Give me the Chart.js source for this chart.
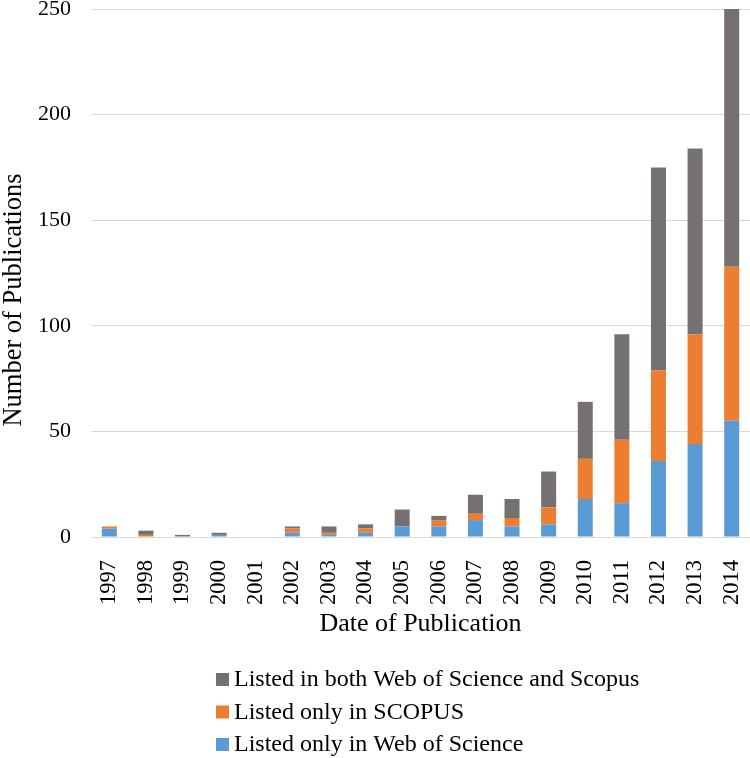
<!DOCTYPE html>
<html>
<head>
<meta charset="utf-8">
<script src="https://cdn.jsdelivr.net/npm/chart.js@4/dist/chart.umd.min.js"></script>
<style>
    html, body { margin: 0; padding: 0; background: #fff; }
    #wrap { width: 750px; height: 758px; }
</style>
</head>
<body>
<div id="wrap"><canvas id="chart" width="750" height="758"></canvas></div>
<script>
const years = ['1997', '1998', '1999', '2000', '2001', '2002', '2003', '2004', '2005',
    '2006', '2007', '2008', '2009', '2010', '2011', '2012', '2013', '2014'];
const webOfScienceOnly = [4, 0, 0, 1, 0, 2, 1, 2, 5, 5, 8, 5, 6, 18, 16, 36, 44, 55];
const scopusOnly = [1, 1, 0, 0, 0, 2, 1, 2, 0, 3, 3, 4, 8, 19, 30, 43, 52, 73];
const bothIndexes = [0, 2, 1, 1, 0, 1, 3, 2, 8, 2, 9, 9, 17, 27, 50, 96, 88, 122];
const yTicks = [0, 50, 100, 150, 200, 250];

const serif = "'Liberation Serif', 'Times New Roman', serif";
const yTitle = 'Number of Publications';

// y title sits a bit below the middle of the axis in the original, so draw it by hand
// legend is a vertical list under the axis title, top entry = top of stack
const extraText = {
    id: 'extraText',
    afterDraw(chart) {
        const ctx = chart.ctx;
        ctx.save();
        ctx.fillStyle = '#000';
        ctx.font = '26.5px ' + serif;
        ctx.textAlign = 'center';
        ctx.textBaseline = 'middle';
        ctx.translate(14, 300);
        ctx.rotate(-Math.PI / 2);
        ctx.fillText(yTitle, 0, 0);
        ctx.restore();

        const items = chart.data.datasets.slice().reverse();
        ctx.save();
        ctx.font = '24px ' + serif;
        ctx.textBaseline = 'middle';
        ctx.textAlign = 'left';
        items.forEach((ds, i) => {
            const y = 680 + i * 32.5;
            ctx.fillStyle = ds.backgroundColor;
            ctx.fillRect(216, y - 7, 13, 13);
            ctx.fillStyle = '#000';
            ctx.fillText(ds.label, 234, y);
        });
        ctx.restore();
    }
};

const ctx = document.getElementById('chart').getContext('2d');
new Chart(ctx, {
    type: 'bar',
    data: {
        labels: years,
        datasets: [{
            label: 'Listed only in Web of Science',
            data: webOfScienceOnly,
            backgroundColor: '#5B9BD5'
        }, {
            label: 'Listed only in SCOPUS',
            data: scopusOnly,
            backgroundColor: '#ED7D31'
        }, {
            label: 'Listed in both Web of Science and Scopus',
            data: bothIndexes,
            backgroundColor: '#767171'
        }]
    },
    plugins: [extraText],
    options: {
        responsive: false,
        animation: false,
        layout: {
            padding: { top: 9, bottom: 118, left: 0, right: 0 }
        },
        datasets: {
            bar: { categoryPercentage: 1, barPercentage: 0.41 }
        },
        plugins: {
            legend: { display: false },
            tooltip: { enabled: false }
        },
        scales: {
            x: {
                stacked: true,
                grid: { display: false },
                border: { display: false },
                ticks: {
                    color: '#000',
                    font: { family: serif, size: 22.5 },
                    minRotation: 90,
                    maxRotation: 90,
                    padding: 15,
                    autoSkip: false
                },
                title: {
                    display: true,
                    text: 'Date of Publication',
                    color: '#000',
                    font: { family: serif, size: 26 },
                    padding: { top: 12, bottom: 0 }
                },
                afterFit(scale) {
                    scale.height = 103;
                    scale.paddingLeft = 0;
                    scale.paddingRight = 0;
                }
            },
            y: {
                stacked: true,
                min: 0,
                max: 250,
                afterBuildTicks(scale) {
                    scale.ticks = yTicks.map(v => ({ value: v }));
                },
                grid: { color: '#d9d9d9', lineWidth: 1, drawTicks: false },
                border: { display: false },
                ticks: {
                    color: '#000',
                    font: { family: serif, size: 22 },
                    padding: 20
                },
                afterFit(scale) {
                    scale.width = 91;
                    scale.paddingTop = 0;
                    scale.paddingBottom = 0;
                }
            }
        }
    }
});
</script>
</body>
</html>
